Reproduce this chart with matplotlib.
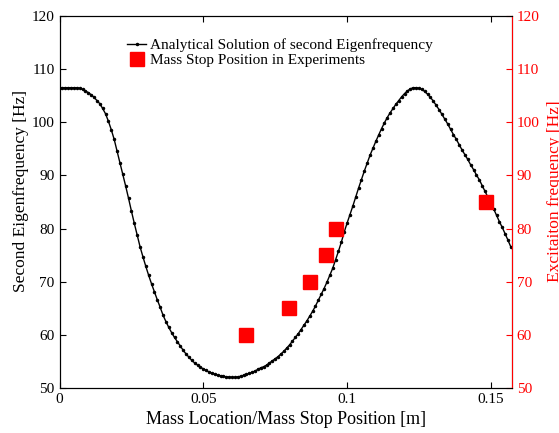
import matplotlib.pyplot as plt
import numpy as np

plt.rcParams['font.family'] = ['Liberation Serif', 'DejaVu Serif']

# Curva analítica (x en m, paso 0.001)
x_curve = np.round(np.arange(0, 0.158, 0.001), 3)
f_curve = [106.5, 106.5, 106.5, 106.5, 106.5, 106.5, 106.5, 106.4, 106.2, 105.9,
           105.6, 105.2, 104.7, 104.1, 103.5, 102.6, 101.6, 100.2, 98.6, 96.8,
           94.6, 92.4, 90.2, 88.0, 85.7, 83.3, 81.0, 78.8, 76.6, 74.7,
           72.9, 71.2, 69.6, 68.1, 66.6, 65.2, 63.7, 62.5, 61.4, 60.4,
           59.5, 58.7, 57.9, 57.1, 56.4, 55.8, 55.2, 54.7, 54.3, 53.9,
           53.6, 53.3, 53.0, 52.8, 52.6, 52.4, 52.3, 52.2, 52.1, 52.05,
           52.0, 52.0, 52.1, 52.2, 52.4, 52.55, 52.75, 52.95, 53.2, 53.5,
           53.8, 54.0, 54.3, 54.7, 55.1, 55.5, 55.9, 56.4, 56.9, 57.5,
           58.1, 58.8, 59.5, 60.2, 61.0, 61.8, 62.6, 63.5, 64.4, 65.4,
           66.5, 67.6, 68.7, 69.9, 71.2, 72.5, 74.1, 75.7, 77.4, 79.3,
           81.0, 82.6, 84.2, 85.9, 87.6, 89.2, 90.8, 92.3, 93.8, 95.1,
           96.4, 97.6, 98.8, 99.9, 100.9, 101.8, 102.6, 103.4, 104.1, 104.8,
           105.4, 105.9, 106.3, 106.5, 106.5, 106.4, 106.2, 105.8, 105.3, 104.7,
           104.0, 103.2, 102.4, 101.5, 100.6, 99.7, 98.7, 97.7, 96.8, 95.8,
           94.8, 93.9, 93.0, 92.0, 91.1, 90.1, 89.2, 88.1, 87.0, 85.9,
           84.8, 83.7, 82.5, 81.3, 80.2, 79.0, 77.8, 76.5]

# Posiciones del tope en experimentos
x_exp = [0.0647, 0.0798, 0.0871, 0.0927, 0.0962, 0.1484]
f_exp = [60, 65, 70, 75, 80, 85]

fig = plt.figure(figsize=(5.59, 4.33), dpi=100)
ax = fig.add_axes([0.1065, 0.104, 0.809, 0.859])
ax2 = ax.twinx()

l1, = ax.plot(x_curve, f_curve, '-', marker='.', color='black', lw=1,
              markersize=3, label='Analytical Solution of second Eigenfrequency')
l2, = ax2.plot(x_exp, f_exp, 's', color='red', markersize=10, ls='none',
               label='Mass Stop Position in Experiments')

ax.set_xlim(0, 0.1573)
ax.set_ylim(50, 120)
ax2.set_ylim(50, 120)
ax.set_xticks([0, 0.05, 0.1, 0.15])
ax.set_xticklabels(['0', '0.05', '0.1', '0.15'])
ax.set_yticks(range(50, 121, 10))
ax2.set_yticks(range(50, 121, 10))

ax.tick_params(direction='in', top=True, right=False, labelsize=11, length=4)
ax2.tick_params(direction='in', colors='red', labelsize=11, length=4)
ax2.spines['right'].set_color('red')

ax.set_xlabel('Mass Location/Mass Stop Position [m]', fontsize=13)
ax.set_ylabel('Second Eigenfrequency [Hz]', fontsize=12.5)
ax2.set_ylabel('Excitaiton frequency [Hz]', fontsize=12.5, color='red')
ax.yaxis.set_label_coords(-0.068, 0.53)
ax2.yaxis.set_label_coords(1.077, 0.53)

ax.legend([l1, l2], [l1.get_label(), l2.get_label()], loc='upper left',
          bbox_to_anchor=(0.128, 0.965), frameon=False, fontsize=11,
          handlelength=1.3, handletextpad=0.2, borderaxespad=0.2,
          labelspacing=0.1)

fig.savefig('out.png', dpi=100)
